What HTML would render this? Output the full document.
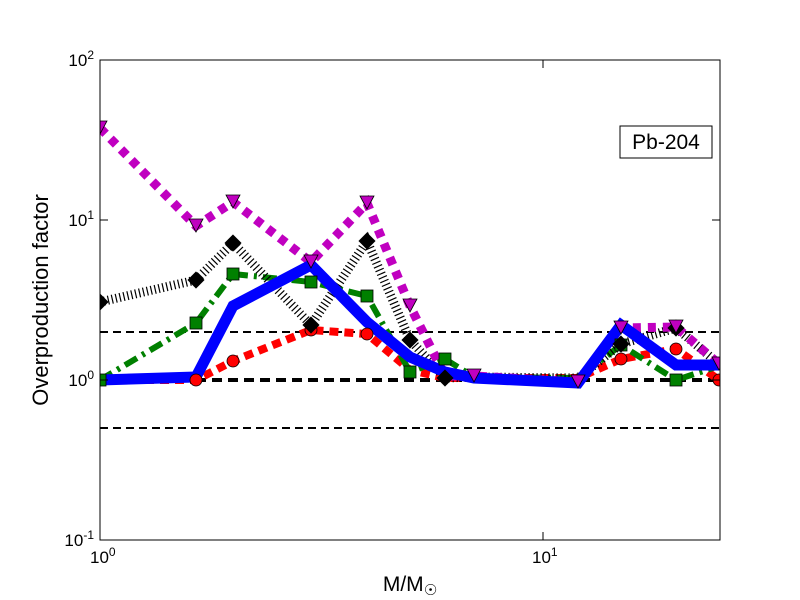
<!DOCTYPE html>
<html><head><style>body{margin:0;background:#fff}svg{display:block}</style></head><body>
<svg width="800" height="600" xmlns="http://www.w3.org/2000/svg" font-family="Liberation Sans, DejaVu Sans, sans-serif">
<rect width="800" height="600" fill="#fff"/>
<defs><clipPath id="c"><rect x="100" y="60" width="620" height="480"/></clipPath></defs>
<g clip-path="url(#c)" fill="none" stroke-linejoin="miter">
<line x1="100" x2="720" y1="332" y2="332" stroke="#000" stroke-width="2" stroke-dasharray="8,5"/>
<line x1="100" x2="720" y1="380" y2="380" stroke="#000" stroke-width="4" stroke-dasharray="10,6"/>
<line x1="100" x2="720" y1="428" y2="428" stroke="#000" stroke-width="2" stroke-dasharray="8,5"/>
<polyline stroke="#f00" stroke-width="8" stroke-dasharray="9,6" points="100,380 196,380 233,361 311,330 367,334 410,370 445,378 474,378 578,378 621,359 676,349 719,380"/>
<polyline stroke="#008000" stroke-width="6" stroke-dasharray="14,6,3,6" points="100,380 196,323 233,274 311,282 367,296 410,372 445,359 474,377 578,378 621,345 676,380 719,366"/>
<polyline stroke="#000" stroke-width="9" stroke-dasharray="1.2,2.8" points="100,302 196,280 233,243 311,325 367,241 410,340 445,378 474,377 578,378 621,344 676,328 719,364"/>
<polyline stroke="#c000c0" stroke-width="9" stroke-dasharray="8,7" points="100,128 196,226 233,202 311,262 367,203 410,306 445,376 474,376 578,382 621,328 676,327 719,364"/>
<polyline stroke="#00f" stroke-width="11" points="100,380 196,377 233,306 311,265 367,322 410,357 445,372 474,378 578,383 621,325 676,365 719,365"/>
<g fill="#f00" stroke="#000" stroke-width="0.8">
<circle cx="196" cy="380" r="6"/><circle cx="233" cy="361" r="6"/><circle cx="311" cy="330" r="6"/><circle cx="367" cy="334" r="6"/><circle cx="621" cy="359" r="6"/><circle cx="676" cy="349" r="6"/><circle cx="719" cy="380" r="6"/></g>
<g fill="#008000" stroke="#000" stroke-width="0.8">
<rect x="94" y="374" width="12" height="12"/><rect x="190" y="317" width="12" height="12"/><rect x="227" y="268" width="12" height="12"/><rect x="305" y="276" width="12" height="12"/><rect x="361" y="290" width="12" height="12"/><rect x="404" y="366" width="12" height="12"/><rect x="439" y="353" width="12" height="12"/><rect x="615" y="339" width="12" height="12"/><rect x="670" y="374" width="12" height="12"/></g>
<g fill="#000" stroke="#000" stroke-width="0.8">
<path d="M100,294l8,8-8,8-8-8z"/><path d="M196,272l8,8-8,8-8-8z"/><path d="M233,235l8,8-8,8-8-8z"/><path d="M311,317l8,8-8,8-8-8z"/><path d="M367,233l8,8-8,8-8-8z"/><path d="M410,332l8,8-8,8-8-8z"/><path d="M445,370l8,8-8,8-8-8z"/><path d="M621,336l8,8-8,8-8-8z"/><path d="M676,320l8,8-8,8-8-8z"/></g>
<g fill="#c000c0" stroke="#000" stroke-width="0.8">
<path d="M93,121h14l-7,13z"/><path d="M189,219h14l-7,13z"/><path d="M226,195h14l-7,13z"/><path d="M304,255h14l-7,13z"/><path d="M360,196h14l-7,13z"/><path d="M403,299h14l-7,13z"/><path d="M467,369h14l-7,13z"/><path d="M571,375h14l-7,13z"/><path d="M614,321h14l-7,13z"/><path d="M669,320h14l-7,13z"/><path d="M712,357h14l-7,13z"/></g>
</g>
<rect x="100" y="60" width="620" height="480" fill="none" stroke="#000" stroke-width="1"/>
<g stroke="#000" stroke-width="1">
<line x1="100" x2="108" y1="60" y2="60"/><line x1="100" x2="108" y1="220" y2="220"/><line x1="100" x2="108" y1="380" y2="380"/><line x1="712" x2="720" y1="220" y2="220"/><line x1="712" x2="720" y1="380" y2="380"/>
<line x1="543" x2="543" y1="540" y2="532"/><line x1="543" x2="543" y1="60" y2="68"/>
</g>
<g font-size="17" fill="#000">
<text x="94" y="66" text-anchor="end">10<tspan font-size="12" dy="-7">2</tspan></text>
<text x="94" y="226" text-anchor="end">10<tspan font-size="12" dy="-7">1</tspan></text>
<text x="94" y="386" text-anchor="end">10<tspan font-size="12" dy="-7">0</tspan></text>
<text x="94" y="546" text-anchor="end">10<tspan font-size="12" dy="-7">-1</tspan></text>
<text x="90" y="563">10<tspan font-size="12" dy="-7">0</tspan></text>
<text x="532" y="563">10<tspan font-size="12" dy="-7">1</tspan></text>
</g>
<text x="410" y="591" font-size="21" text-anchor="middle">M/M<tspan font-size="15" dy="4">☉</tspan></text>
<text x="48" y="300" font-size="22" text-anchor="middle" transform="rotate(-90 48 300)">Overproduction factor</text>
<rect x="620" y="126" width="92" height="32" fill="#fff" stroke="#000"/>
<text x="666" y="149" font-size="21" text-anchor="middle">Pb-204</text>
</svg>
</body></html>
